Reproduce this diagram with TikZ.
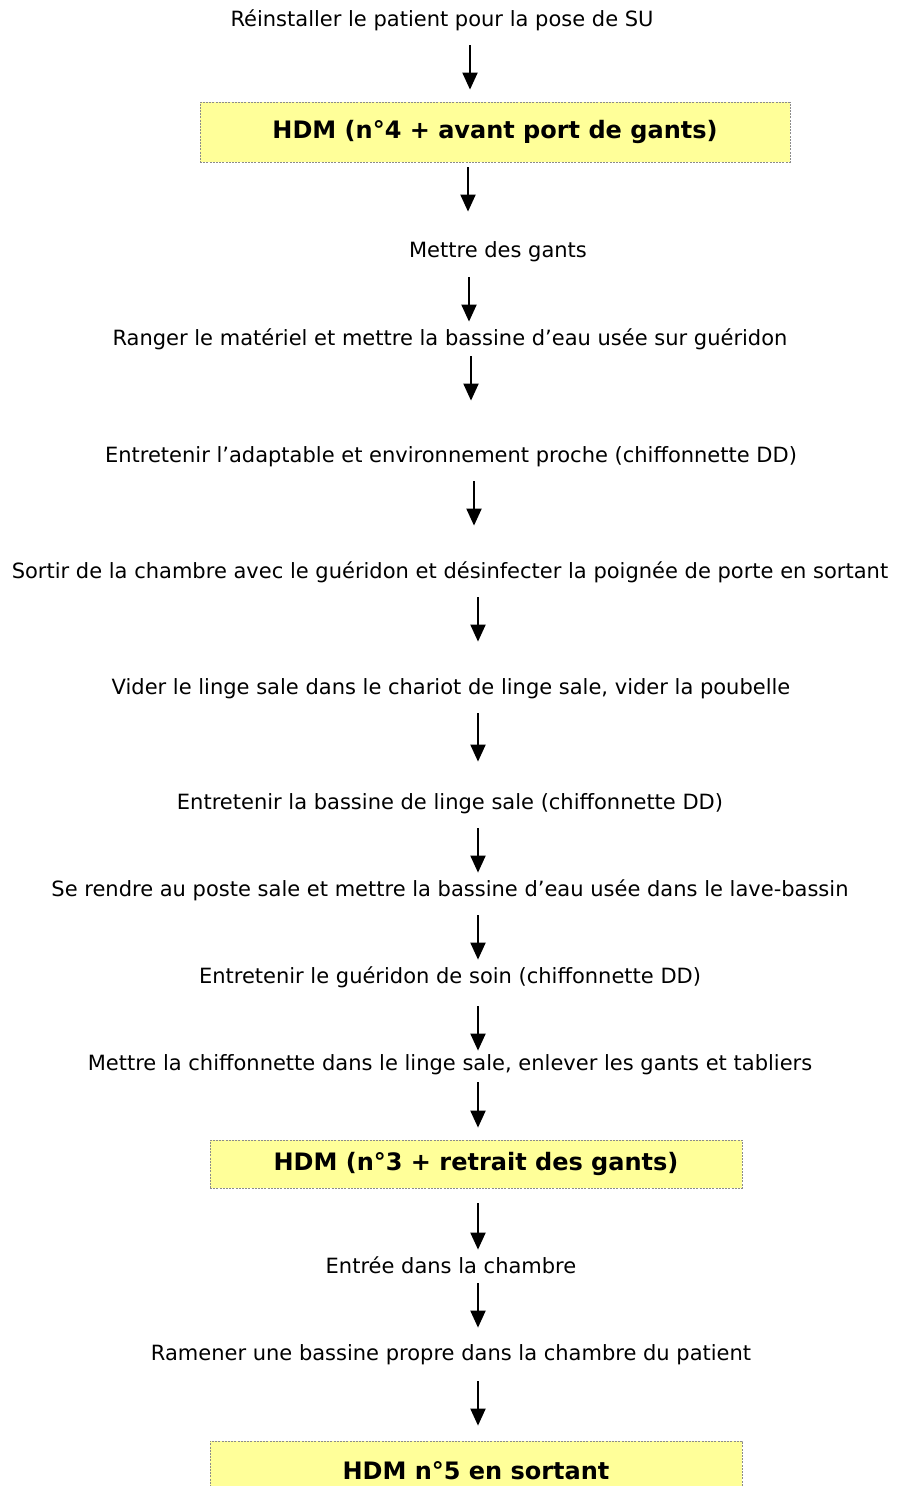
\documentclass[tikz,border=0pt]{standalone}
\usepackage{fontspec}
\setmainfont{DejaVu Sans}
\usetikzlibrary{arrows.meta}
\definecolor{boxyellow}{HTML}{FFFF99}
\begin{document}
\begin{tikzpicture}[x=0.5pt,y=-0.5pt,
  act/.style={inner sep=0pt, text height=9.5pt, text depth=2.5pt, font=\fontsize{10.5}{12}\selectfont},
  hdm/.style={draw=black!45, fill=boxyellow, line width=0.4pt, dash pattern=on 1pt off 0.6pt,
    inner sep=0pt, font=\fontsize{12}{14}\bfseries\selectfont},
  flow/.style={-{Triangle[length=8.5pt,width=7.5pt]}, line width=1pt}]
\useasboundingbox (0,0) rectangle (897,1486);
\clip (0,0) rectangle (897,1486);
% hand hygiene boxes
\node[hdm, minimum width=295pt, minimum height=30pt] (hdmA) at (495,132) {HDM (n°4 + avant port de gants)};
\node[hdm, minimum width=266pt, minimum height=24pt] (hdmB) at (476,1164) {HDM (n°3 + retrait des gants)};
\node[hdm, minimum width=266pt, minimum height=30pt] (hdmC) at (476,1471) {HDM n°5 en sortant};
% steps
\node[act] (s1) at (442,20) {Réinstaller le patient pour la pose de SU};
\node[act] (s2) at (498,251) {Mettre des gants};
\node[act] (s3) at (450,339) {Ranger le matériel et mettre la bassine d’eau usée sur guéridon};
\node[act] (s4) at (451,455) {Entretenir l’adaptable et environnement proche (chiffonnette DD)};
\node[act] (s5) at (450,571) {Sortir de la chambre avec le guéridon et désinfecter la poignée de porte en sortant};
\node[act] (s6) at (451,687) {Vider le linge sale dans le chariot de linge sale, vider la poubelle};
\node[act] (s7) at (450,802) {Entretenir la bassine de linge sale (chiffonnette DD)};
\node[act] (s8) at (450,889) {Se rendre au poste sale et mettre la bassine d’eau usée dans le lave-bassin};
\node[act] (s9) at (450,976) {Entretenir le guéridon de soin (chiffonnette DD)};
\node[act] (s10) at (450,1063) {Mettre la chiffonnette dans le linge sale, enlever les gants et tabliers};
\node[act] (s11) at (451,1266) {Entrée dans la chambre};
\node[act] (s12) at (451,1353) {Ramener une bassine propre dans la chambre du patient};
% arrows
\draw[flow, shorten <=6.5pt, shorten >=6pt] (s1.south -| 470,0) -- (hdmA.north -| 470,0);
\draw[flow, shorten <=2.5pt, shorten >=13.5pt] (hdmA.south -| 468,0) -- (s2.north -| 468,0);
\draw[flow, shorten <=7pt, shorten >=2.5pt] (s2.south -| 469,0) -- (s3.north -| 469,0);
\draw[flow, shorten <=2.5pt, shorten >=21pt] (s3.south -| 471,0) -- (s4.north -| 471,0);
\draw[flow, shorten <=7pt, shorten >=16.5pt] (s4.south -| 474,0) -- (s5.north -| 474,0);
\draw[flow, shorten <=7pt, shorten >=16.5pt] (s5.south -| 478,0) -- (s6.north -| 478,0);
\draw[flow, shorten <=7pt, shorten >=14pt] (s6.south -| 478,0) -- (s7.north -| 478,0);
\draw[flow, shorten <=7pt, shorten >=2pt] (s7.south -| 478,0) -- (s8.north -| 478,0);
\draw[flow, shorten <=7pt, shorten >=2pt] (s8.south -| 478,0) -- (s9.north -| 478,0);
\draw[flow, shorten <=9pt, shorten >=0pt] (s9.south -| 478,0) -- (s10.north -| 478,0);
\draw[flow, shorten <=3.5pt, shorten >=6pt] (s10.south -| 478,0) -- (hdmB.north -| 478,0);
\draw[flow, shorten <=7.5pt, shorten >=2pt] (hdmB.south -| 478,0) -- (s11.north -| 478,0);
\draw[flow, shorten <=2.5pt, shorten >=6.5pt] (s11.south -| 478,0) -- (s12.north -| 478,0);
\draw[flow, shorten <=8pt, shorten >=7.5pt] (s12.south -| 478,0) -- (hdmC.north -| 478,0);
\end{tikzpicture}
\end{document}
